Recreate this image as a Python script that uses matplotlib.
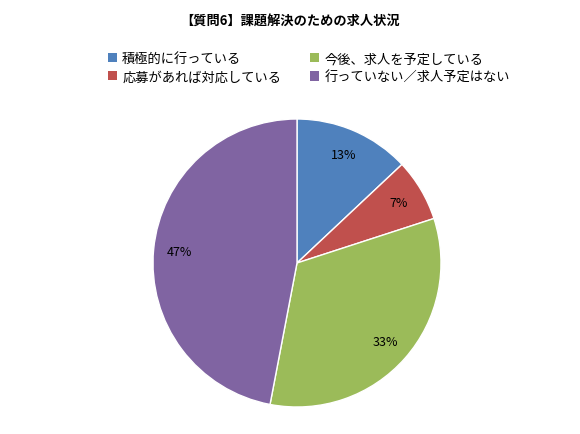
import matplotlib
matplotlib.use("Agg")
import matplotlib.pyplot as plt
from matplotlib.patches import Patch

plt.rcParams['font.family'] = ['Noto Sans CJK JP', 'DejaVu Sans']

categories = ["積極的に行っている", "応募があれば対応している", "今後、求人を予定している", "行っていない／求人予定はない"]
values = [13, 7, 33, 47]
colors = ["#4F81BD", "#C0504D", "#9BBB59", "#8064A2"]
title = "【質問6】課題解決のための求人状況"

fig = plt.figure(figsize=(5.8, 4.35), dpi=100)
fig.text(0.5, 0.95, title, ha='center', va='center', fontsize=9.5, fontweight='bold')

cx, cy, r = 297, 264, 144
ax = fig.add_axes([(cx - r) / 580, (435 - cy - r) / 435, 2 * r / 580, 2 * r / 435])
ax.pie(values, colors=colors, startangle=90, counterclock=False,
       autopct='%d%%', pctdistance=0.82,
       wedgeprops=dict(edgecolor='white', linewidth=1),
       textprops=dict(fontsize=9))
ax.set_aspect('auto')
ax.set_xlim(-1, 1); ax.set_ylim(-1, 1)

handles = [Patch(facecolor=c, edgecolor='none') for c in colors]
fig.legend(handles, categories, loc='upper left', bbox_to_anchor=(0.165, 0.905),
           ncol=2, frameon=False, fontsize=9.5, handlelength=0.7, handleheight=0.7,
           handletextpad=0.4, columnspacing=2.2, labelspacing=0.4)

fig.savefig("out.png", dpi=100)
